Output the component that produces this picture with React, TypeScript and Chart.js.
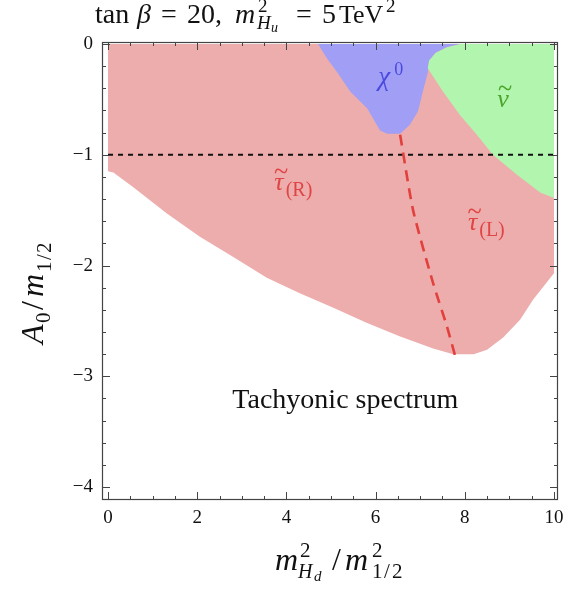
import React, { useEffect, useRef } from 'react';
import { Chart, registerables } from 'chart.js';

Chart.register(...registerables);

// ---------- data ----------
const xTickValues = [0, 2, 4, 6, 8, 10];
const yTickValues = [-4, -3, -2, -1, 0];

// allowed (stau LSP) region envelope
const stauX = [0, 10, 10, 9.53, 9.24, 8.86, 8.5, 8.2, 7.74, 7.29, 6.55, 5.81, 5.04, 4.3, 3.56, 2.8, 2.06, 1.32, 0.56, 0.12, 0];
const stauY = [0, 0, -2.07, -2.31, -2.49, -2.65, -2.76, -2.8, -2.8, -2.75, -2.64, -2.52, -2.38, -2.25, -2.11, -1.92, -1.74, -1.53, -1.29, -1.16, -1.15];

// neutralino LSP region
const chiX = [4.71, 7.9, 7.6, 7.35, 7.2, 7.17, 7.06, 6.95, 6.77, 6.55, 6.26, 6.1, 5.81, 5.43, 5.13, 4.91];
const chiY = [0, 0, -0.03, -0.08, -0.15, -0.26, -0.43, -0.61, -0.73, -0.81, -0.81, -0.78, -0.58, -0.43, -0.25, -0.13];

// sneutrino LSP region
const snuX = [7.9, 10, 10, 9.69, 9.17, 8.63, 8.27, 7.89, 7.51, 7.3, 7.17, 7.2, 7.35, 7.6];
const snuY = [0, 0, -1.39, -1.34, -1.18, -1.0, -0.82, -0.64, -0.43, -0.3, -0.22, -0.15, -0.08, -0.03];

// stau R / L boundary
const mixX = [6.55, 6.84, 7.29, 7.6, 7.78];
const mixY = [-0.82, -1.5, -2.16, -2.55, -2.81];

// reference line A0 = -m1/2
const refX = [0, 10];
const refY = [-1, -1];

const pts = (xs: number[], ys: number[]) => xs.map((x, i) => ({ x, y: ys[i] }));

const SERIF = '"Liberation Serif", "DejaVu Serif", serif';

// text piece: [text, x offset, y offset, size, italic]
type Piece = [string, number, number, number, boolean];

function drawPieces(ctx: CanvasRenderingContext2D, pieces: Piece[], x: number, y: number) {
  ctx.textAlign = 'left';
  ctx.textBaseline = 'alphabetic';
  for (const [t, dx, dy, size, it] of pieces) {
    ctx.font = `${it ? 'italic ' : ''}${size}px ${SERIF}`;
    ctx.fillText(t, x + dx, y + dy);
  }
}

function drawTildeLetter(ctx: CanvasRenderingContext2D, letter: string, sub: string, x: number, y: number, size: number, subSize: number, color: string) {
  ctx.save();
  ctx.fillStyle = color;
  ctx.textAlign = 'left';
  ctx.textBaseline = 'alphabetic';
  ctx.font = `italic ${size}px ${SERIF}`;
  const w = ctx.measureText(letter).width;
  ctx.fillText(letter, x, y);
  if (sub) {
    ctx.font = `${subSize}px ${SERIF}`;
    ctx.fillText(sub, x + w + 2, y + 6);
  }
  // wide tilde accent
  const fs = size * 0.75;
  ctx.translate(x + w / 2 + 2, y - 17);
  ctx.scale(1.35, 1.5);
  ctx.font = `${fs}px ${SERIF}`;
  ctx.textAlign = 'center';
  ctx.fillText('~', 0, 0.27 * fs);
  ctx.restore();
}

const framePlugin = {
  id: 'frameTicks',
  afterDatasetsDraw(chart: any) {
    const { ctx, chartArea: a, scales } = chart;
    const xs = scales.x;
    const ys = scales.y;
    ctx.save();
    ctx.strokeStyle = '#444';
    ctx.lineWidth = 1.2;
    ctx.strokeRect(a.left + 0.5, a.top + 0.5, a.right - a.left - 1, a.bottom - a.top - 1);
    ctx.lineWidth = 1;
    ctx.beginPath();
    for (let i = 0; i <= 20; i++) {
      const v = i * 0.5;
      const px = Math.round(xs.getPixelForValue(v)) + 0.5;
      const L = i % 4 === 0 ? 8 : 4;
      ctx.moveTo(px, a.bottom);
      ctx.lineTo(px, a.bottom - L);
      ctx.moveTo(px, a.top);
      ctx.lineTo(px, a.top + L);
    }
    for (let i = 0; i <= 20; i++) {
      const v = -i * 0.2;
      const py = Math.round(ys.getPixelForValue(v)) + 0.5;
      const L = i % 5 === 0 ? 8 : 4;
      ctx.moveTo(a.left, py);
      ctx.lineTo(a.left + L, py);
      ctx.moveTo(a.right, py);
      ctx.lineTo(a.right - L, py);
    }
    ctx.stroke();
    ctx.restore();
  },
};

const textPlugin = {
  id: 'texts',
  afterDraw(chart: any) {
    const { ctx, scales } = chart;
    const xs = scales.x;
    const ys = scales.y;
    const X = (v: number) => xs.getPixelForValue(v);
    const Y = (v: number) => ys.getPixelForValue(v);
    ctx.save();

    // title
    ctx.fillStyle = '#111';
    drawPieces(ctx, [
      ['tan', 0, 0, 28, false],
      ['β', 42, 0, 28, true],
      ['=', 66, 0, 28, false],
      ['20', 92, 0, 28, false],
      [',', 120, 0, 28, false],
      ['m', 140, 0, 28, true],
      ['2', 163, -11, 19, false],
      ['H', 162, 6, 19, true],
      ['u', 176, 9, 14, true],
      ['=', 201, 0, 28, false],
      ['5', 227, 0, 28, false],
      ['TeV', 244, 0, 26, false],
      ['2', 291, -11, 19, false],
    ], 95, 23);

    // x axis title
    drawPieces(ctx, [
      ['m', 0, 0, 32, true],
      ['2', 25, -13, 21, false],
      ['H', 23, 8, 20, true],
      ['d', 39, 11, 15, true],
      ['/', 57, 0, 32, false],
      ['m', 70, 0, 32, true],
      ['2', 97, -13, 21, false],
      ['1', 97, 8, 21, false],
      ['/', 109, 8, 21, false],
      ['2', 117, 8, 21, false],
    ], 275, 570);

    // y axis title
    ctx.save();
    ctx.translate(43, 344);
    ctx.rotate(-Math.PI / 2);
    drawPieces(ctx, [
      ['A', 0, 0, 32, true],
      ['0', 21, 7, 21, false],
      ['/', 34, 0, 32, false],
      ['m', 47, 0, 32, true],
      ['1', 72, 8, 21, false],
      ['/', 84, 8, 21, false],
      ['2', 91, 8, 21, false],
    ], 0, 0);
    ctx.restore();

    // region labels
    ctx.fillStyle = '#4a4ae0';
    drawPieces(ctx, [
      ['χ', 0, 0, 27, true],
      ['0', 16, -10, 18, false],
    ], X(6.06), Y(-0.37));

    drawTildeLetter(ctx, 'ν', '', X(8.73), Y(-0.57), 26, 19, '#4aa52a');
    drawTildeLetter(ctx, 'τ', '(R)', X(3.73), Y(-1.32), 26, 20, '#e04545');
    drawTildeLetter(ctx, 'τ', '(L)', X(8.07), Y(-1.68), 26, 20, '#e04545');

    ctx.fillStyle = '#111';
    ctx.font = `28px ${SERIF}`;
    ctx.textAlign = 'center';
    ctx.textBaseline = 'alphabetic';
    ctx.fillText('Tachyonic spectrum', X(5.32), Y(-3.29));
    ctx.restore();
  },
};

export default function App() {
  const ref = useRef<HTMLCanvasElement>(null);
  useEffect(() => {
    if (!ref.current) return;
    const area = (data: any, color: string, order: number) => ({
      data,
      showLine: true,
      fill: 'shape',
      backgroundColor: color,
      borderColor: 'transparent',
      borderWidth: 0,
      pointRadius: 0,
      pointHoverRadius: 0,
      order,
    });
    const chart = new Chart(ref.current, {
      type: 'scatter',
      data: {
        datasets: [
          area(pts(stauX, stauY), '#EEADAD', 10),
          area(pts(chiX, chiY), '#A09FF5', 9),
          area(pts(snuX, snuY), '#B2F5AE', 8),
          {
            data: pts(refX, refY),
            showLine: true,
            borderColor: '#111',
            borderWidth: 2,
            borderDash: [5, 5],
            pointRadius: 0,
            fill: false,
            order: 2,
          },
          {
            data: pts(mixX, mixY),
            showLine: true,
            borderColor: '#E2403C',
            borderWidth: 2.6,
            borderDash: [11, 7],
            pointRadius: 0,
            fill: false,
            tension: 0.2,
            order: 1,
          },
        ] as any,
      },
      options: {
        responsive: false,
        animation: false,
        layout: { padding: { left: 0, right: 8, top: 42, bottom: 0 } },
        plugins: {
          legend: { display: false },
          tooltip: { enabled: false },
          title: { display: false },
        },
        events: [],
        scales: {
          x: {
            type: 'linear',
            min: -0.135,
            max: 10.09,
            grid: { display: false, drawTicks: false },
            border: { display: false },
            afterBuildTicks: (s: any) => {
              s.ticks = xTickValues.map((v) => ({ value: v }));
            },
            afterFit: (s: any) => {
              s.height = 92;
              s.paddingLeft = 0;
              s.paddingRight = 0;
            },
            ticks: {
              autoSkip: false,
              maxRotation: 0,
              padding: 7,
              color: '#111',
              font: { family: SERIF, size: 19 },
              callback: (v: any) => String(v),
            },
          },
          y: {
            type: 'linear',
            min: -4.117,
            max: 0.018,
            grid: { display: false, drawTicks: false },
            border: { display: false },
            afterBuildTicks: (s: any) => {
              s.ticks = yTickValues.map((v) => ({ value: v }));
            },
            afterFit: (s: any) => {
              s.width = 102;
              s.paddingTop = 0;
              s.paddingBottom = 0;
            },
            ticks: {
              autoSkip: false,
              padding: 9,
              color: '#111',
              font: { family: SERIF, size: 19 },
              callback: (v: any) => (v < 0 ? '\u2212' + Math.abs(v) : String(v)),
            },
          },
        },
      } as any,
      plugins: [framePlugin, textPlugin],
    });
    return () => chart.destroy();
  }, []);
  return (
    <div style={{ position: 'absolute', left: 0, top: 0, width: 566, height: 592, background: '#fff' }}>
      <canvas ref={ref} width={566} height={592} style={{ display: 'block', width: 566, height: 592 }} />
    </div>
  );
}
